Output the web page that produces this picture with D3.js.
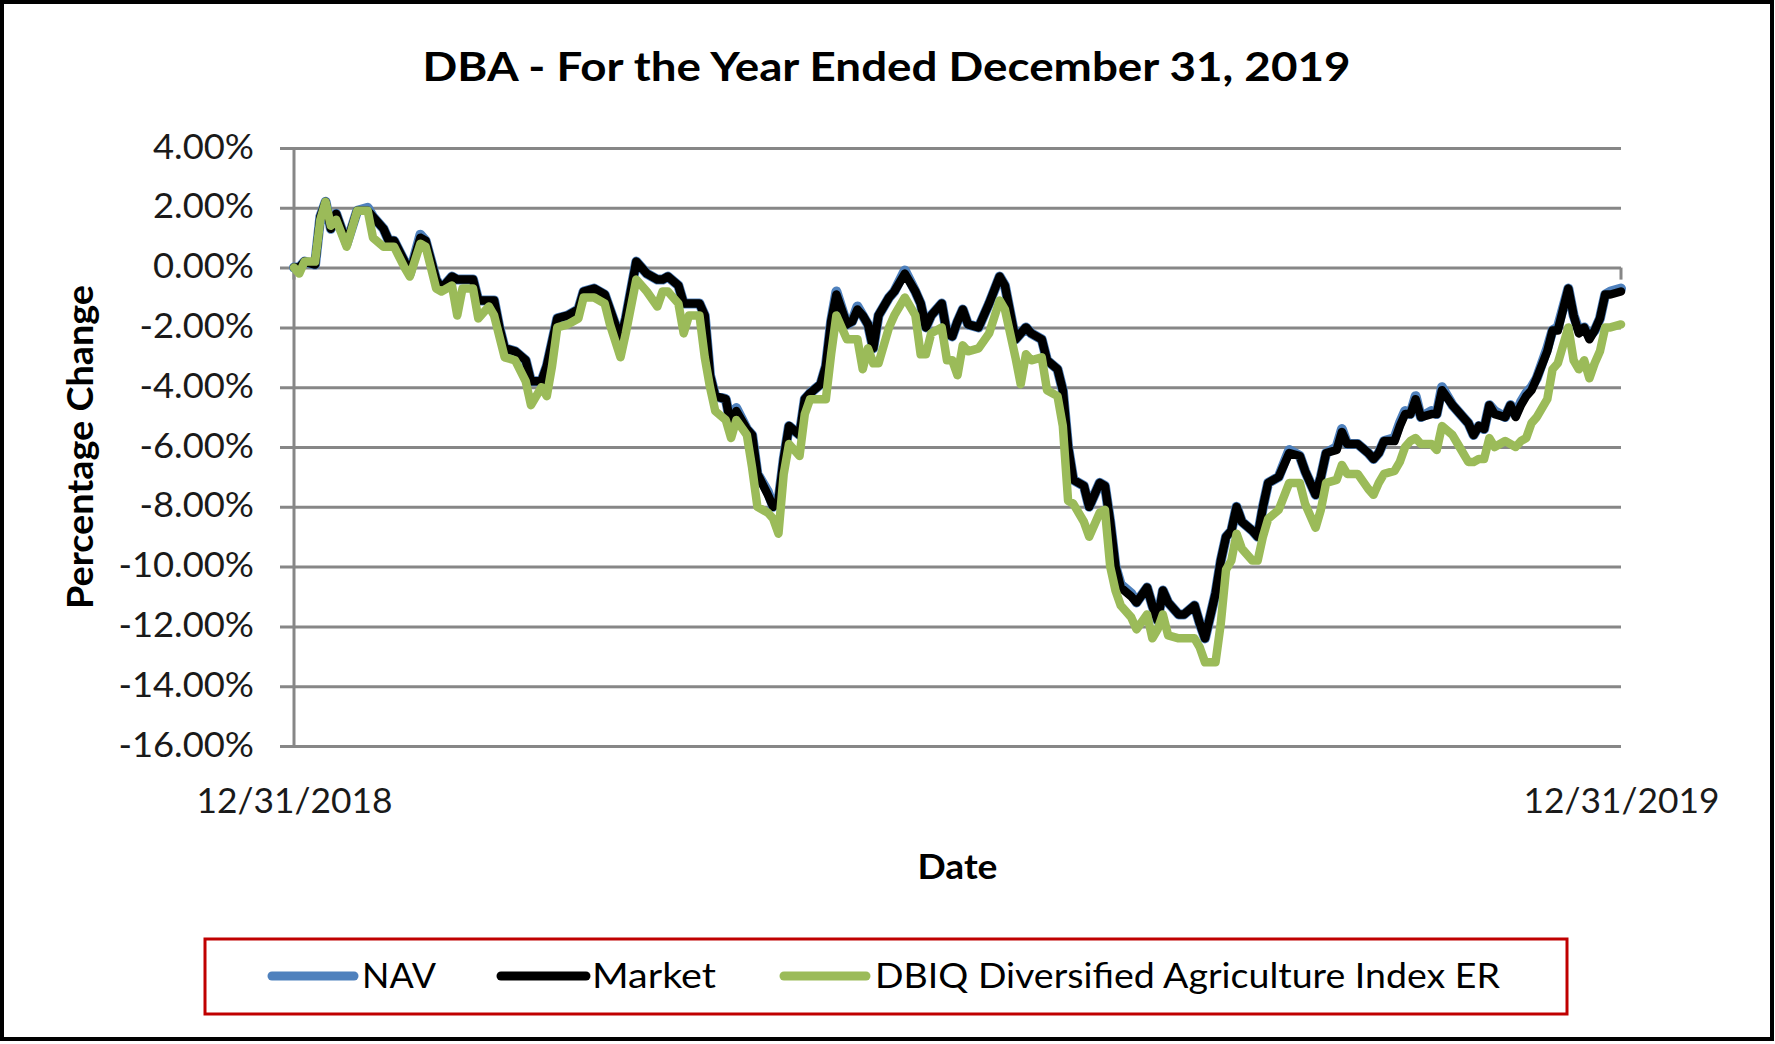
<!DOCTYPE html>
<html><head><meta charset="utf-8">
<script src="https://cdn.jsdelivr.net/npm/d3@7"></script>
<style>body{margin:0;background:#fff}svg{display:block}</style>
</head><body>
<svg id="chart" width="1775" height="1044"></svg>
<script>
// ---------- data ----------
const chartTitle = "DBA - For the Year Ended December 31, 2019";
const yAxisTitle = "Percentage Change";
const xAxisTitle = "Date";
const yTicks = [4, 2, 0, -2, -4, -6, -8, -10, -12, -14, -16];
const xTickDays = [0, 252];
const xTickLabels = ["12/31/2018", "12/31/2019"];
const seriesNames = ["NAV", "Market", "DBIQ Diversified Agriculture Index ER"];

// trading-day index from 12/31/2018 (0) to 12/31/2019 (252)
const days = [0,1,2,4,5,6,7,8,10,12,14,15,17,18,19,21,22,24,25,27,28,30,31,32,34,35,37,38,39,40,42,44,45,47,48,49,50,52,54,55,57,59,
  60,62,63,65,67,69,70,71,73,74,75,77,78,79,80,82,83,84,86,87,88,90,91,92,93,94,96,97,98,100,101,102,103,105,106,107,108,109,110,111,113,114,116,118,119,
  120,121,123,124,125,126,127,128,130,132,134,135,137,138,139,140,142,143,145,146,147,148,150,151,153,154,
  155,156,157,159,160,162,163,164,165,166,168,169,171,172,173,175,176,177,178,179,180,182,183,184,185,187,
  189,191,192,194,195,196,198,199,200,202,204,205,206,207,209,210,211,212,213,214,216,217,218,220,221,223,224,225,226,227,228,230,231,232,233,234,235,236,238,239,240,242,243,244,245,246,247,248,249,250,252];

const market = [0.0,0.0,0.2,0.1,1.7,2.2,1.3,1.8,0.8,1.9,1.9,1.7,1.3,0.9,0.9,0.2,-0.2,1.0,0.9,-0.4,-0.7,-0.3,-0.4,-0.4,-0.4,-1.1,-1.1,-1.1,-2.0,-2.7,-2.8,-3.1,-3.8,-3.8,-3.3,-2.5,-1.7,-1.6,-1.4,-0.8,-0.7,-0.9,
  -1.4,-2.4,-1.7,0.2,-0.2,-0.4,-0.4,-0.3,-0.6,-1.2,-1.2,-1.2,-1.6,-3.6,-4.3,-4.4,-5.3,-4.8,-5.4,-5.6,-6.9,-7.6,-8.0,-7.8,-6.4,-5.3,-5.6,-4.4,-4.2,-3.9,-3.3,-1.8,-0.9,-1.9,-1.8,-1.4,-1.6,-1.9,-2.7,-1.6,-1.0,-0.8,-0.2,-0.8,-1.2,
  -2.0,-1.6,-1.2,-2.2,-2.3,-1.8,-1.4,-1.9,-2.0,-1.2,-0.3,-0.6,-2.4,-2.2,-2.0,-2.2,-2.4,-3.1,-3.4,-4.1,-6.0,-7.1,-7.3,-8.0,-7.2,-7.3,
  -8.5,-10.0,-10.7,-11.0,-11.2,-10.7,-11.3,-11.8,-10.8,-11.2,-11.6,-11.6,-11.3,-11.9,-12.4,-10.9,-9.8,-9.0,-8.8,-8.0,-8.5,-8.8,-9.0,-8.0,-7.2,-7.0,
  -6.2,-6.3,-6.8,-7.6,-7.0,-6.2,-6.1,-5.5,-5.9,-5.9,-6.2,-6.4,-6.2,-5.8,-5.8,-5.3,-4.9,-4.9,-4.4,-5.0,-4.9,-4.9,-4.1,-4.6,-4.8,-5.2,-5.6,-5.3,-5.4,-4.6,-4.9,-5.0,-4.6,-5.0,-4.6,-4.3,-4.1,-3.7,-2.8,-2.1,-2.1,-0.7,-1.6,-2.2,-2.0,-2.4,-2.1,-1.7,-0.9,-0.9,-0.8];

const nav = [0.0,0.0,0.2,0.1,1.7,2.2,1.3,1.8,0.8,1.9,2.0,1.7,1.3,0.9,0.9,0.2,-0.2,1.1,0.9,-0.4,-0.7,-0.3,-0.4,-0.4,-0.4,-1.1,-1.1,-1.1,-2.0,-2.7,-2.8,-3.1,-3.8,-3.8,-3.3,-2.5,-1.7,-1.6,-1.4,-0.8,-0.7,-0.9,
  -1.4,-2.4,-1.7,0.2,-0.2,-0.4,-0.4,-0.3,-0.6,-1.2,-1.2,-1.2,-1.6,-3.6,-4.3,-4.4,-5.3,-4.7,-5.4,-5.6,-6.9,-7.5,-8.0,-7.8,-6.4,-5.3,-5.6,-4.4,-4.2,-3.9,-3.3,-1.8,-0.8,-1.9,-1.8,-1.3,-1.6,-1.9,-2.7,-1.6,-1.0,-0.8,-0.1,-0.8,-1.2,
  -2.0,-1.6,-1.2,-2.2,-2.3,-1.8,-1.4,-1.9,-2.0,-1.2,-0.3,-0.6,-2.4,-2.2,-2.0,-2.2,-2.4,-3.1,-3.4,-4.1,-6.0,-7.1,-7.3,-8.0,-7.2,-7.3,
  -8.5,-10.0,-10.6,-10.9,-11.2,-10.7,-11.3,-11.8,-10.8,-11.2,-11.6,-11.6,-11.3,-11.9,-12.4,-10.9,-9.8,-9.0,-8.8,-8.0,-8.5,-8.8,-9.0,-8.0,-7.2,-7.0,
  -6.1,-6.3,-6.8,-7.6,-7.0,-6.2,-6.0,-5.4,-5.9,-5.9,-6.2,-6.4,-6.2,-5.8,-5.7,-5.2,-4.8,-4.9,-4.3,-5.0,-4.8,-4.9,-4.0,-4.6,-4.8,-5.2,-5.6,-5.3,-5.4,-4.6,-4.8,-5.0,-4.6,-4.9,-4.5,-4.2,-4.0,-3.7,-2.7,-2.1,-2.0,-0.7,-1.6,-2.1,-2.0,-2.3,-2.1,-1.7,-0.9,-0.8,-0.7];

const index = [0.0,-0.2,0.2,0.2,1.6,2.2,1.4,1.6,0.7,1.9,1.9,1.0,0.7,0.7,0.7,0.0,-0.3,0.8,0.7,-0.7,-0.8,-0.6,-1.6,-0.7,-0.7,-1.7,-1.3,-1.6,-2.3,-3.0,-3.1,-3.8,-4.6,-4.0,-4.3,-3.3,-2.0,-1.9,-1.7,-1.0,-1.0,-1.2,
  -1.9,-3.0,-2.2,-0.4,-0.8,-1.3,-0.8,-0.8,-1.2,-2.2,-1.6,-1.6,-3.0,-4.0,-4.8,-5.1,-5.7,-5.1,-5.6,-6.7,-8.0,-8.2,-8.4,-8.9,-6.9,-5.9,-6.3,-4.9,-4.4,-4.4,-4.4,-2.9,-1.6,-2.4,-2.4,-2.4,-3.4,-2.7,-3.2,-3.2,-2.0,-1.6,-1.0,-1.6,-2.9,
  -2.9,-2.2,-2.0,-3.1,-3.1,-3.6,-2.6,-2.8,-2.7,-2.2,-1.1,-1.4,-3.0,-3.9,-2.9,-3.1,-3.0,-4.1,-4.3,-5.3,-7.8,-7.9,-8.5,-9.0,-8.2,-8.1,
  -10.0,-10.8,-11.3,-11.7,-12.1,-11.6,-12.4,-12.1,-11.6,-12.3,-12.4,-12.4,-12.4,-12.7,-13.2,-13.2,-11.9,-10.1,-9.8,-8.9,-9.4,-9.8,-9.8,-9.0,-8.4,-8.1,
  -7.2,-7.2,-7.9,-8.7,-8.1,-7.2,-7.1,-6.6,-6.9,-6.9,-7.4,-7.6,-7.2,-6.9,-6.8,-6.5,-6.0,-5.8,-5.7,-5.9,-5.9,-6.1,-5.3,-5.6,-5.9,-6.5,-6.5,-6.4,-6.4,-5.7,-6.0,-5.8,-5.9,-6.0,-5.8,-5.7,-5.2,-5.0,-4.4,-3.4,-3.2,-2.0,-3.1,-3.4,-3.1,-3.7,-3.2,-2.8,-2.0,-2.0,-1.9];

// ---------- layout ----------
const FONT = "Lato, 'Liberation Sans', sans-serif";
const W = 1775, H = 1044;
const plot = {left: 294, right: 1621, top: 148, bottom: 746};
const svg = d3.select("#chart");

function fitWidth(sel, w) {
  sel.attr("textLength", w).attr("lengthAdjust", "spacingAndGlyphs");
}
function condense(sel, factor) {
  sel.each(function() {
    const n = this.getComputedTextLength();
    d3.select(this).attr("textLength", n * factor).attr("lengthAdjust", "spacingAndGlyphs");
  });
}

svg.append("rect").attr("width", W).attr("height", H).attr("fill", "#fff");
svg.append("rect").attr("x", 2).attr("y", 2).attr("width", 1770).attr("height", 1037)
  .attr("fill", "none").attr("stroke", "#000").attr("stroke-width", 4);

const x = d3.scaleLinear().domain([0, 252]).range([plot.left, plot.right]);
const y = d3.scaleLinear().domain([-16, 4]).range([plot.bottom, plot.top]);

// gridlines + y labels
const gridColor = "#878787";
const yAxis = d3.axisLeft(y).tickValues(yTicks)
  .tickFormat(d => d.toFixed(2) + "%")
  .tickSize(-(plot.right - (plot.left - 14))).tickPadding(26);
const gy = svg.append("g").attr("transform", `translate(${plot.left - 14},0)`).call(yAxis);
gy.select(".domain").remove();
gy.selectAll(".tick line").attr("stroke", gridColor).attr("stroke-width", 3);
gy.selectAll(".tick text").attr("font-family", FONT).attr("font-size", 35)
  .attr("fill", "#1a1a1a").attr("dy", null).attr("y", 10);
{
  const t = gy.selectAll(".tick text").filter(d => d === 4).node();
  const f = 101 / t.getComputedTextLength();
  condense(gy.selectAll(".tick text"), f);
}

// vertical axis line
svg.append("line").attr("x1", plot.left).attr("x2", plot.left)
  .attr("y1", plot.top).attr("y2", plot.bottom)
  .attr("stroke", gridColor).attr("stroke-width", 3);

// date axis crosses at 0% with outside ticks; labels sit at the bottom
svg.selectAll(".zeroTick").data(xTickDays).join("line").attr("class", "zeroTick")
  .attr("x1", d => x(d)).attr("x2", d => x(d))
  .attr("y1", y(0)).attr("y2", y(0) + 12)
  .attr("stroke", gridColor).attr("stroke-width", 3);

const xAxis = d3.axisBottom(x).tickValues(xTickDays)
  .tickFormat((d, i) => xTickLabels[i]).tickSize(0).tickPadding(42);
const gx = svg.append("g").attr("transform", `translate(0,${plot.bottom})`).call(xAxis);
gx.select(".domain").remove();
gx.selectAll(".tick text").attr("font-family", FONT).attr("font-size", 35).attr("fill", "#1a1a1a");
fitWidth(gx.selectAll(".tick text"), 196);

// series
const line = d3.line().x((d, i) => x(days[i])).y(d => y(d));
const series = [
  {name: seriesNames[0], values: nav, color: "#4F81BD", width: 10},
  {name: seriesNames[1], values: market, color: "#000000", width: 8.5},
  {name: seriesNames[2], values: index, color: "#9BBB59", width: 8.5}
];
svg.append("g").selectAll("path").data(series).join("path")
  .attr("d", d => line(d.values))
  .attr("fill", "none").attr("stroke", d => d.color).attr("stroke-width", d => d.width)
  .attr("stroke-linejoin", "round").attr("stroke-linecap", "round");

// title
svg.append("text").attr("x", 886.5).attr("y", 81).attr("text-anchor", "middle")
  .attr("font-family", FONT).attr("font-weight", "bold").attr("font-size", 41)
  .attr("fill", "#000").text(chartTitle).call(fitWidth, 928);

// axis titles
svg.append("text").attr("x", (plot.left + plot.right) / 2).attr("y", 879).attr("text-anchor", "middle")
  .attr("font-family", FONT).attr("font-weight", "bold").attr("font-size", 35)
  .attr("fill", "#000").text(xAxisTitle).call(fitWidth, 80);
svg.append("text").attr("transform", `translate(93,${(plot.top + plot.bottom) / 2}) rotate(-90)`)
  .attr("text-anchor", "middle")
  .attr("font-family", FONT).attr("font-weight", "bold").attr("font-size", 36)
  .attr("fill", "#000").text(yAxisTitle).call(fitWidth, 324);

// legend
svg.append("rect").attr("x", 205).attr("y", 939).attr("width", 1362).attr("height", 75)
  .attr("fill", "none").attr("stroke", "#C00000").attr("stroke-width", 3);
const legendPos = [
  {x1: 272, x2: 354, tx: 362, tw: 74},
  {x1: 501, x2: 586, tx: 592, tw: 124},
  {x1: 784, x2: 866, tx: 875, tw: 625}
];
const lg = svg.append("g").selectAll("g").data(series).join("g");
lg.append("line").attr("x1", (d, i) => legendPos[i].x1).attr("x2", (d, i) => legendPos[i].x2)
  .attr("y1", 976).attr("y2", 976).attr("stroke", d => d.color).attr("stroke-width", 9)
  .attr("stroke-linecap", "round");
lg.append("text").attr("x", (d, i) => legendPos[i].tx).attr("y", 988)
  .attr("font-family", FONT).attr("font-size", 35).attr("fill", "#000")
  .text(d => d.name)
  .each(function(d, i) { d3.select(this).call(fitWidth, legendPos[i].tw); });
</script>
</body></html>
